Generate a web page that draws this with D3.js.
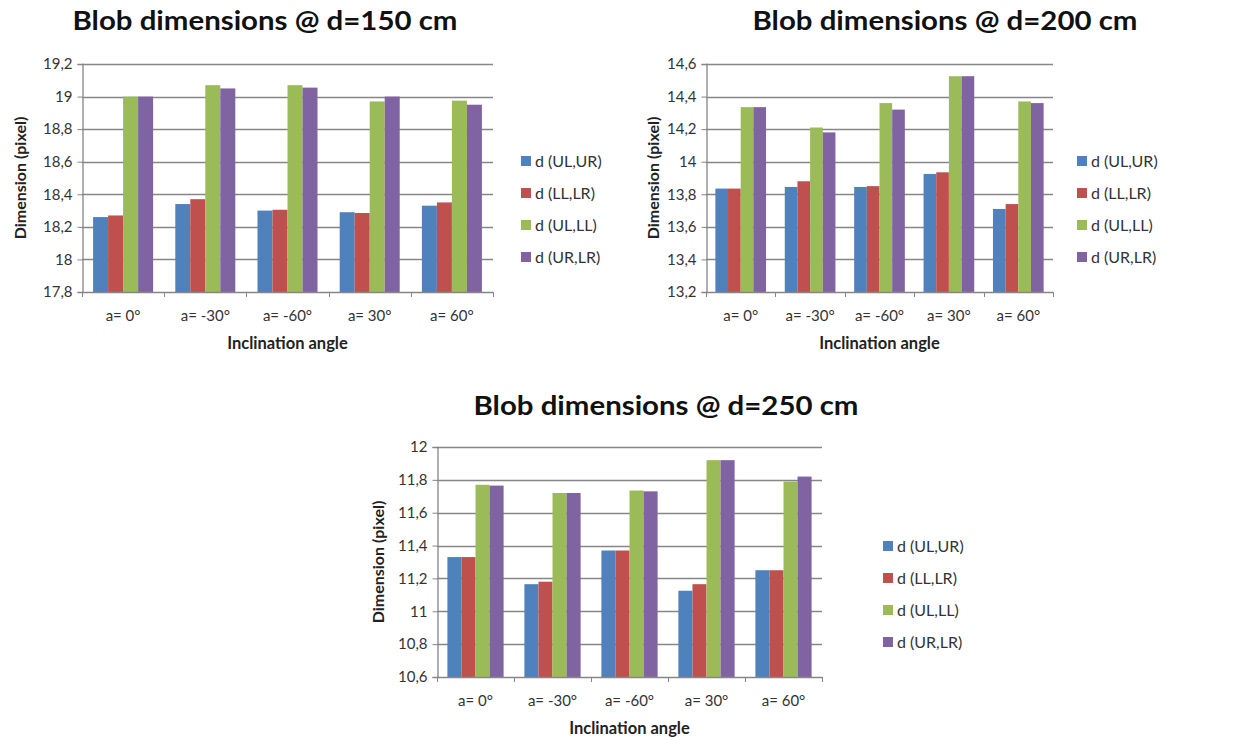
<!DOCTYPE html>
<html>
<head>
<meta charset="utf-8">
<script src="https://cdn.jsdelivr.net/npm/d3@7"></script>
<style>
  body { margin: 0; background: #fff; }
  text { font-family: Lato, "Open Sans", sans-serif; }
</style>
</head>
<body>
<script>
// categories and series
var categories = ["a= 0°", "a= -30°", "a= -60°", "a= 30°", "a= 60°"];
var seriesNames = ["d (UL,UR)", "d (LL,LR)", "d (UL,LL)", "d (UR,LR)"];
var colors = ["#4F81BD", "#C0504D", "#9BBB59", "#8064A2"];

// d = 150 cm
var ulur150 = [18.26, 18.34, 18.30, 18.29, 18.33];
var lllr150 = [18.27, 18.37, 18.305, 18.285, 18.35];
var ulll150 = [19.0, 19.07, 19.07, 18.97, 18.975];
var urlr150 = [19.0, 19.05, 19.055, 19.0, 18.95];
var ticks150 = [17.8, 18, 18.2, 18.4, 18.6, 18.8, 19, 19.2];

// d = 200 cm
var ulur200 = [13.835, 13.845, 13.845, 13.925, 13.71];
var lllr200 = [13.835, 13.88, 13.85, 13.935, 13.74];
var ulll200 = [14.335, 14.21, 14.36, 14.525, 14.37];
var urlr200 = [14.335, 14.18, 14.32, 14.525, 14.36];
var ticks200 = [13.2, 13.4, 13.6, 13.8, 14, 14.2, 14.4, 14.6];

// d = 250 cm
var ulur250 = [11.33, 11.165, 11.37, 11.125, 11.25];
var lllr250 = [11.33, 11.18, 11.37, 11.165, 11.25];
var ulll250 = [11.77, 11.72, 11.735, 11.92, 11.79];
var urlr250 = [11.765, 11.72, 11.73, 11.92, 11.82];
var ticks250 = [10.6, 10.8, 11, 11.2, 11.4, 11.6, 11.8, 12];

var w = 1249;
var h = 737;
var fmt = d3.formatLocale({decimal: ",", thousands: ".", grouping: [3], currency: ["", ""]}).format("~f");

var svg = d3.select("body")
            .append("svg")
            .attr("width", w)
            .attr("height", h);

function drawChart(cfg) {
    var g = svg.append("g");
    var y = d3.scaleLinear()
              .domain([cfg.ticks[0], cfg.ticks[cfg.ticks.length - 1]])
              .range([cfg.bottom, cfg.top]);
    var x0 = d3.scaleBand()
               .domain(categories)
               .range([cfg.left, cfg.right])
               .padding(0);
    var bw = x0.bandwidth();
    var x1 = d3.scaleBand()
               .domain(seriesNames)
               .range([bw * 0.135, bw * 0.865])
               .padding(0);

    // gridlines
    g.selectAll(".grid")
     .data(cfg.ticks.slice(1))
     .enter()
     .append("line")
     .attr("x1", cfg.left)
     .attr("x2", cfg.right)
     .attr("y1", function(d) { return Math.round(y(d)) + 0.5; })
     .attr("y2", function(d) { return Math.round(y(d)) + 0.5; })
     .attr("stroke", "#868686")
     .attr("stroke-width", 1.3);

    // bars
    var rows = categories.map(function(c, i) {
        return cfg.values.map(function(v, j) {
            return {cat: c, name: seriesNames[j], value: v[i], color: colors[j]};
        });
    });
    g.selectAll(".grp")
     .data(rows)
     .enter()
     .append("g")
     .attr("transform", function(d) { return "translate(" + x0(d[0].cat) + ",0)"; })
     .selectAll("rect")
     .data(function(d) { return d; })
     .enter()
     .append("rect")
     .attr("x", function(d) { return x1(d.name); })
     .attr("y", function(d) { return y(d.value); })
     .attr("width", x1.bandwidth())
     .attr("height", function(d) { return cfg.bottom - y(d.value); })
     .attr("fill", function(d) { return d.color; });

    // y axis
    var yAxis = d3.axisLeft(y)
                  .tickValues(cfg.ticks)
                  .tickFormat(fmt)
                  .tickSize(5)
                  .tickPadding(5);
    var ya = g.append("g")
              .attr("transform", "translate(" + (cfg.left + 0.5) + ",0)")
              .call(yAxis);
    ya.select(".domain").attr("stroke", "#868686").attr("stroke-width", 1.3);
    ya.selectAll(".tick line").attr("stroke", "#868686");
    ya.selectAll("text")
      .attr("font-size", "15px")
      .attr("fill", "#333")
      .style("font-family", "Lato, sans-serif");

    // x axis
    g.append("line")
     .attr("x1", cfg.left)
     .attr("x2", cfg.right)
     .attr("y1", cfg.bottom + 0.5)
     .attr("y2", cfg.bottom + 0.5)
     .attr("stroke", "#868686")
     .attr("stroke-width", 1.3);
    var edges = categories.map(function(c) { return x0(c); }).concat([cfg.right]);
    g.selectAll(".xtick")
     .data(edges)
     .enter()
     .append("line")
     .attr("x1", function(d) { return Math.round(d) + 0.5; })
     .attr("x2", function(d) { return Math.round(d) + 0.5; })
     .attr("y1", cfg.bottom)
     .attr("y2", cfg.bottom + 5)
     .attr("stroke", "#868686");
    g.selectAll(".xlab")
     .data(categories)
     .enter()
     .append("text")
     .text(function(d) { return d; })
     .attr("text-anchor", "middle")
     .attr("x", function(d) { return x0(d) + bw / 2; })
     .attr("y", cfg.bottom + 29)
     .attr("font-size", "15px")
     .attr("fill", "#333");

    // axis titles
    g.append("text")
     .text("Inclination angle")
     .attr("text-anchor", "middle")
     .attr("x", (cfg.left + cfg.right) / 2)
     .attr("y", cfg.bottom + 57)
     .attr("font-size", "16.5px")
     .attr("font-weight", "bold")
     .attr("fill", "#222");
    g.append("text")
     .text("Dimension (pixel)")
     .attr("text-anchor", "middle")
     .attr("transform", "translate(" + (cfg.yTitleX + 5.5) + "," + ((cfg.top + cfg.bottom) / 2) + ") rotate(-90)")
     .attr("font-size", "16px")
     .attr("font-weight", "bold")
     .attr("fill", "#222");

    // title
    g.append("text")
     .text(cfg.title)
     .attr("text-anchor", "middle")
     .attr("x", cfg.titleX)
     .attr("y", cfg.titleY)
     .attr("font-size", "27px")
     .attr("font-weight", "bold")
     .attr("fill", "#111")
     .attr("textLength", 385)
     .attr("lengthAdjust", "spacingAndGlyphs");

    // legend
    var leg = g.selectAll(".leg")
               .data(seriesNames)
               .enter()
               .append("g")
               .attr("transform", function(d, i) {
                   return "translate(" + cfg.legendX + "," + (cfg.legendY + i * 32) + ")";
               });
    leg.append("rect")
       .attr("x", 0)
       .attr("y", -5)
       .attr("width", 10)
       .attr("height", 10)
       .attr("fill", function(d, i) { return colors[i]; });
    leg.append("text")
       .text(function(d) { return d; })
       .attr("x", 14)
       .attr("y", 5.5)
       .attr("font-size", "16px")
       .attr("fill", "#333");
}

drawChart({
    title: "Blob dimensions @ d=150 cm", titleX: 265, titleY: 30,
    left: 82, right: 493, top: 64, bottom: 292,
    ticks: ticks150, values: [ulur150, lllr150, ulll150, urlr150],
    legendX: 521, legendY: 161, yTitleX: 20
});
drawChart({
    title: "Blob dimensions @ d=200 cm", titleX: 945, titleY: 30,
    left: 706, right: 1053, top: 64, bottom: 292,
    ticks: ticks200, values: [ulur200, lllr200, ulll200, urlr200],
    legendX: 1077, legendY: 161, yTitleX: 653
});
drawChart({
    title: "Blob dimensions @ d=250 cm", titleX: 666, titleY: 415,
    left: 437, right: 822, top: 447, bottom: 677,
    ticks: ticks250, values: [ulur250, lllr250, ulll250, urlr250],
    legendX: 883, legendY: 546, yTitleX: 378
});
</script>
</body>
</html>
